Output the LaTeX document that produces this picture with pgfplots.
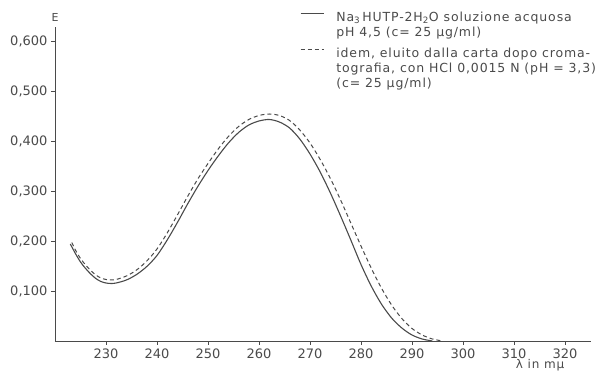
\documentclass[border=0pt]{standalone}
\usepackage{fontspec}
\setmainfont{DejaVu Sans}
\newfontfamily\legfont{DejaVu Sans}[LetterSpace=7]
\usepackage{pgfplots}
\pgfplotsset{compat=1.18}
\definecolor{ink}{HTML}{4A4A4A}
\pgfplotstableread{
x y
223.0 0.194
224 0.175
225 0.158
226 0.145
227 0.134
228 0.125
229 0.119
230 0.116
231 0.115
232 0.116
234 0.122
236 0.133
238 0.149
240 0.171
242 0.202
244 0.237
246 0.274
248 0.309
250 0.341
252 0.370
254 0.396
256 0.417
258 0.432
260 0.440
262 0.443
264 0.438
266 0.426
268 0.404
270 0.374
272 0.338
274 0.296
276 0.250
278 0.202
280 0.153
282 0.110
284 0.074
286 0.046
288 0.026
290 0.012
292 0.004
294 0.000
}\solid
\pgfplotstableread{
x y
223.3 0.197
224 0.182
225 0.165
226 0.152
227 0.141
228 0.132
229 0.126
230 0.123
231 0.122
232 0.123
234 0.130
236 0.142
238 0.160
240 0.184
242 0.216
244 0.252
246 0.289
248 0.324
250 0.355
252 0.384
254 0.409
256 0.429
258 0.443
260 0.451
262 0.454
264 0.451
266 0.441
268 0.422
270 0.396
272 0.363
274 0.325
276 0.282
278 0.236
280 0.190
282 0.146
284 0.106
286 0.072
288 0.045
290 0.025
292 0.012
294 0.004
296 0.000
}\dashedt
\begin{document}
\begin{tikzpicture}
\begin{axis}[
  scale only axis, width=535.5pt, height=314pt,
  xmin=220, xmax=325, ymin=0, ymax=0.628,
  axis x line*=bottom, axis y line*=left,
  axis line style={ink, line width=0.8pt, -},
  xtick={230,240,250,260,270,280,290,300,310,320},
  ytick={0.1,0.2,0.3,0.4,0.5,0.6},
  tick align=outside, major tick length=4pt,
  tick style={ink, line width=0.7pt},
  ticklabel style={font=\fontsize{13}{13}\selectfont, text=ink},
  /pgf/number format/assume math mode=true,
  yticklabel style={/pgf/number format/.cd, fixed, fixed zerofill, precision=3, use comma},
  xticklabel style={/pgf/number format/.cd, fixed, precision=0, 1000 sep={}},
  xlabel={λ in mμ}, ylabel={E},
  every axis x label/.style={at={(axis description cs:0.9057,0)}, anchor=center, yshift=-24pt, font=\legfont\fontsize{12}{12}\selectfont, text=ink},
  every axis y label/.style={at={(axis description cs:0,1)}, anchor=south, yshift=2pt, font=\fontsize{11}{11}\selectfont, text=ink},
  legend style={at={(axis description cs:0.4575,1.058)}, anchor=north west, draw=none, fill=none,
    font=\legfont\fontsize{12.5}{15}\selectfont, text=ink, inner sep=0pt, /tikz/column sep=10pt, /tikz/row sep=20pt},
  legend cell align=left,
  legend image code/.code={\draw[#1] (0pt,3.5pt) -- (23pt,3.5pt);},
]
\addplot[ink, line width=1.1pt, smooth] table[x=x,y=y]{\solid};
\addlegendentry{\begin{tabular}[t]{@{}l@{}}Na\textsubscript{3}\,HUTP-2H\textsubscript{2}O soluzione acquosa\\pH 4,5 (c= 25 µg/ml)\end{tabular}}
\addplot[ink, line width=1.0pt, smooth, dash pattern=on 4pt off 3pt] table[x=x,y=y]{\dashedt};
\addlegendentry{\begin{tabular}[t]{@{}l@{}}idem, eluito dalla carta dopo croma-\\tografia, con HCl 0,0015 N (pH = 3,3)\\(c= 25 µg/ml)\end{tabular}}
\end{axis}
\pgfresetboundingbox
\path (-55pt,-33pt) rectangle (540pt,341pt);
\end{tikzpicture}
\end{document}
